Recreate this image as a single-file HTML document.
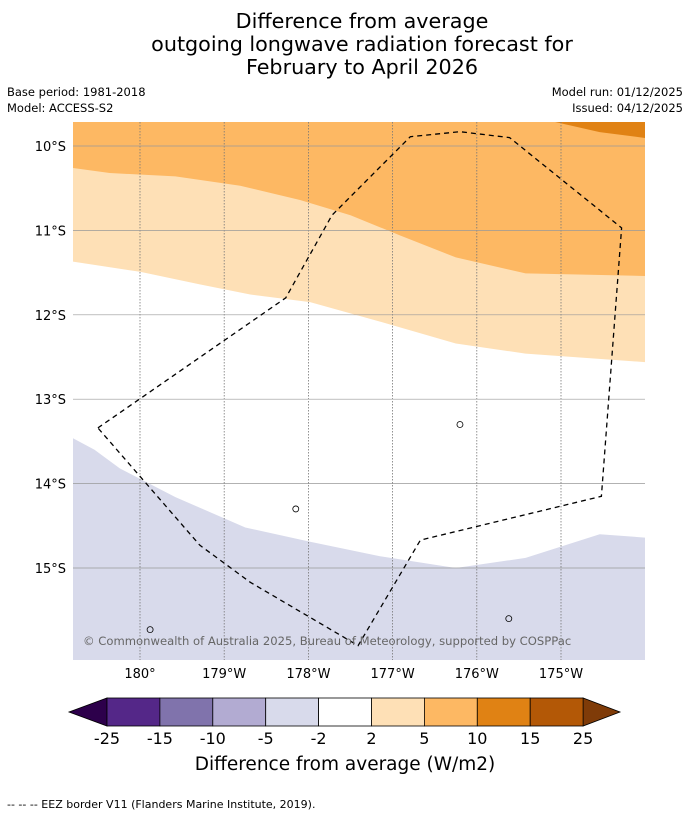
<!DOCTYPE html>
<html><head><meta charset="utf-8"><style>
body{margin:0;background:#fff;width:690px;height:816px;overflow:hidden;font-family:"Liberation Sans","DejaVu Sans",sans-serif}
svg{display:block}
</style></head><body>
<svg id="chart" width="690" height="816" xmlns="http://www.w3.org/2000/svg" font-family="DejaVu Sans, Liberation Sans, sans-serif">
<text x="362" y="28" text-anchor="middle" font-size="20.7">Difference from average</text>
<text x="362" y="51" text-anchor="middle" font-size="20.7">outgoing longwave radiation forecast for</text>
<text x="362" y="74" text-anchor="middle" font-size="20.7">February to April 2026</text>
<text x="7" y="96" font-size="11.5">Base period: 1981-2018</text>
<text x="7" y="112" font-size="11.5">Model: ACCESS-S2</text>
<text x="683" y="96" font-size="11.5" text-anchor="end">Model run: 01/12/2025</text>
<text x="683" y="112" font-size="11.5" text-anchor="end">Issued: 04/12/2025</text>
<defs><clipPath id="mc"><rect x="73" y="122" width="572" height="538"/></clipPath></defs>
<g id="map" clip-path="url(#mc)"></g>
<g id="axes"></g>
<g id="cbar"></g>
<text x="345" y="770" text-anchor="middle" font-size="18.5">Difference from average (W/m2)</text>
<text x="7" y="808" font-size="11">--  --  -- EEZ border V11 (Flanders Marine Institute, 2019).</text>
</svg>
<script>
// Contour boundaries (lon east 0-360, lat)
const contour10 = [[184.93,-9.716],[185.46,-9.835],[186,-9.905]];
const contour5 = [[179.2,-10.26],[179.64,-10.32],[180.42,-10.36],[181.19,-10.47],[181.9,-10.64],[182.5,-10.82],[183.09,-11.06],[183.75,-11.32],[184.58,-11.51],[186,-11.54]];
const contour2 = [[179.2,-11.37],[180,-11.49],[180.71,-11.64],[181.31,-11.76],[182.02,-11.85],[182.85,-12.08],[183.75,-12.34],[184.58,-12.46],[186,-12.56]];
const contourM2 = [[179.2,-13.46],[179.46,-13.6],[179.76,-13.82],[180.42,-14.16],[181.25,-14.52],[182.02,-14.69],[182.85,-14.86],[183.75,-15.0],[184.58,-14.88],[185.46,-14.6],[186,-14.64]];
const eez = [[179.5,-13.34],[181.73,-11.8],[182.28,-10.82],[183.21,-9.89],[183.8,-9.83],[184.39,-9.9],[185.72,-10.97],[185.48,-14.15],[183.33,-14.67],[182.59,-15.92],[181.31,-15.17],[180.71,-14.73],[179.5,-13.34]];
const islands = [[183.8,-13.3],[181.85,-14.3],[184.38,-15.6],[180.12,-15.73]];
const lonTicks = [180,181,182,183,184,185];
const lonLabels = ["180°","179°W","178°W","177°W","176°W","175°W"];
const latTicks = [-10,-11,-12,-13,-14,-15];
const latLabels = ["10°S","11°S","12°S","13°S","14°S","15°S"];
const cbLevels = ["-25","-15","-10","-5","-2","2","5","10","15","25"];
const cbColors = ["#542788","#8073ac","#b2abd2","#d8daeb","#ffffff","#fee0b6","#fdb863","#e08214","#b35806"];

const NS="http://www.w3.org/2000/svg";
const X = lon => 140 + (lon-180)*84.2;
const Y = lat => 146 + (-10-lat)*84.4;
function mk(tag, attrs, parent){const e=document.createElementNS(NS,tag);for(const k in attrs)e.setAttribute(k,attrs[k]);parent.appendChild(e);return e;}
const mapG=document.getElementById('map'), axesG=document.getElementById('axes'), cbG=document.getElementById('cbar');
const pts = a => a.map(p=>X(p[0]).toFixed(1)+','+Y(p[1]).toFixed(1)).join(' ');
function band(line, color, name, below){
  const first=line[0], last=line[line.length-1];
  const yEdge = below ? -16.5 : -9.5;
  const extra = [[186.5,last[1]],[186.5,yEdge],[Math.min(first[0],179),yEdge],[Math.min(first[0],179),first[1]]];
  const p=mk('polygon',{points:pts(line.concat(extra)),fill:color},mapG);
  
  
}
mk('rect',{x:73,y:122,width:572,height:538,fill:'#fff'},mapG);
band(contour2,'#fee0b6','band-2-to-5',false);
band(contour5,'#fdb863','band-5-to-10',false);
const c10=mk('polygon',{points:pts(contour10.concat([[186.5,-9.905],[186.5,-9.5],[184.93,-9.5]])),fill:'#e08214'},mapG);


band(contourM2,'#d8daeb','band-minus5-to-minus2',true);
for(let i=0;i<lonTicks.length;i++){
  const l=mk('line',{x1:X(lonTicks[i]),x2:X(lonTicks[i]),y1:122,y2:660,stroke:'#777','stroke-width':0.8,'stroke-dasharray':'1.5,1.5'},mapG);
  
  
  const t=mk('text',{x:X(lonTicks[i]),y:678,'text-anchor':'middle','font-size':13},axesG);
  t.textContent=lonLabels[i];
  
  
}
for(let i=0;i<latTicks.length;i++){
  const l=mk('line',{x1:73,x2:645,y1:Y(latTicks[i]),y2:Y(latTicks[i]),stroke:'#999','stroke-width':0.7},mapG);
  
  
  const t=mk('text',{x:66,y:Y(latTicks[i])+5,'text-anchor':'end','font-size':13},axesG);
  t.textContent=latLabels[i];
  
  
}
islands.forEach(p=>{
  const e=mk('ellipse',{cx:X(p[0]),cy:Y(p[1]),rx:3,ry:3,fill:'none',stroke:'#000','stroke-width':0.8},mapG);
  
  
});
const eb=mk('polyline',{points:pts(eez),fill:'none',stroke:'#000','stroke-width':1.3,'stroke-dasharray':'5,4'},mapG);


const cp=mk('text',{x:83,y:645,'font-size':11.6,fill:'#666'},mapG);
cp.textContent='© Commonwealth of Australia 2025, Bureau of Meteorology, supported by COSPPac';


// colorbar
const cx0=107, cw=52.9, cy=698, ch=28;
const lt=mk('polygon',{points:`${cx0},${cy} ${cx0},${cy+ch} 69,${cy+ch/2}`,fill:'#2d004b',stroke:'#000','stroke-width':0.8},cbG);


const xe=cx0+cw*cbColors.length;
const rt=mk('polygon',{points:`${xe},${cy} ${xe},${cy+ch} 620,${cy+ch/2}`,fill:'#7f3b08',stroke:'#000','stroke-width':0.8},cbG);


cbColors.forEach((c,i)=>{
  const r=mk('rect',{x:cx0+i*cw,y:cy,width:cw,height:ch,fill:c,stroke:'#000','stroke-width':0.8},cbG);
  
  
});
cbLevels.forEach((v,i)=>{
  const t=mk('text',{x:cx0+i*cw,y:744,'text-anchor':'middle','font-size':16},cbG);
  t.textContent=v;
  
  
});
</script>
</body></html>
